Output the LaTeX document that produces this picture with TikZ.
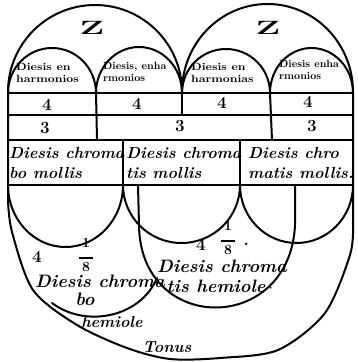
\documentclass[tikz,border=0pt]{standalone}
\begin{document}
\begin{tikzpicture}[x=1pt,y=-1pt,
  ln/.style={line width=2pt, line join=round, line cap=round},
  hand/.style={font=\fontsize{16}{18}\selectfont\bfseries\itshape, inner sep=0pt},
  bighand/.style={font=\fontsize{18}{20}\selectfont\bfseries\itshape, inner sep=0pt},
  tinytxt/.style={font=\fontsize{10.5}{11.5}\selectfont\bfseries, inner sep=0pt, align=left, anchor=west},
  num/.style={font=\fontsize{17}{17}\selectfont\bfseries, inner sep=0pt},
  fr/.style={font=\fontsize{14}{14}\selectfont\bfseries, inner sep=0pt, align=center},
  zed/.style={font=\fontsize{24}{24}\selectfont\bfseries, inner sep=0pt}
]
\useasboundingbox (0,0) rectangle (358,362);
% big arches
\draw[ln] (8,92) arc[start angle=180, end angle=360, x radius=87, y radius=87];
\draw[ln] (182,92) arc[start angle=180, end angle=360, x radius=85.5, y radius=88];
% small arches
\draw[ln] (8,93) arc[start angle=180, end angle=360, x radius=44, y radius=45];
\draw[ln] (96,93) arc[start angle=180, end angle=360, x radius=43, y radius=46];
\draw[ln] (182,93) arc[start angle=180, end angle=360, x radius=44, y radius=44];
\draw[ln] (270,93) arc[start angle=180, end angle=360, x radius=41.5, y radius=45];
% horizontal lines
\draw[ln] (8,93) -- (353,93);
\draw[ln] (8,115) -- (353,115);
\draw[ln] (8,140) -- (353,140);
\draw[ln] (8,185) -- (353,185);
% vertical dividers
\draw[ln] (96,93) -- (97,140);
\draw[ln] (182,93) -- (182,115);
\draw[ln] (270,93) -- (272,140);
\draw[ln] (123,140) -- (123,185);
\draw[ln] (240,140) -- (240,185);
% outer contour
\draw[ln] (8,92) -- plot[smooth] coordinates {(8,200) (12,232) (33,290) (77,325) (127,348) (170,359) (220,358) (278,350) (325,313) (350,255) (353,225)} -- (353,92);
% lower half circles
\draw[ln] (8,185) arc[start angle=180, end angle=0, x radius=57.5, y radius=62];
\draw[ln] (123,185) arc[start angle=180, end angle=0, x radius=58.5, y radius=58];
\draw[ln] (240,185) arc[start angle=180, end angle=0, x radius=56.5, y radius=58];
% tis hemiole U
\draw[ln] (138,185) -- (139,225) .. controls (140,335) and (290,335) .. (295,225) -- (295,185);
% bo arc
\draw[ln] (52,303) .. controls (85,328) and (140,318) .. (157,278);
% texts
\node[zed] (z1) at (92,28) {\scalebox{1.5}[0.8]{Z}};
\node[zed] (z2) at (268,28) {\scalebox{1.5}[0.8]{Z}};
\node[tinytxt] (a1) at (16,73) {\scalebox{1.15}[1]{Diesis en}\\\scalebox{1.15}[1]{harmonios}};
\node[tinytxt] (a2) at (103,72) {Diesis, enha\\rmonios};
\node[tinytxt] (a3) at (191,73) {\scalebox{1.15}[1]{Diesis en}\\\scalebox{1.15}[1]{harmonias}};
\node[tinytxt] (a4) at (279,70) {Diesis enha\\rmonios};
\node[num] (f1) at (47,105) {4};
\node[num] (f2) at (137,104) {4};
\node[num] (f3) at (222,103) {4};
\node[num] (f4) at (308,102) {4};
\node[num] (t1) at (45,128) {3};
\node[num] (t2) at (180,126) {3};
\node[num] (t3) at (312,126) {3};
\node[hand, anchor=west] (c1a) at (9,153) {Diesis chroma};
\node[hand, anchor=west] (c1b) at (9,173) {bo mollis};
\node[hand, anchor=west] (c2a) at (126,153) {Diesis chroma};
\node[hand, anchor=west] (c2b) at (126,173) {tis mollis};
\node[hand, anchor=west] (c3a) at (248,153) {Diesis chro};
\node[hand, anchor=west] (c3b) at (248,173) {matis mollis.};
\node[num] (l4) at (37,257) {4};
\node[fr] (l8) at (86,255) {1\\[-3pt]\rule{14pt}{1.6pt}\\[-1pt]8};
\node[bighand, anchor=west] (l1) at (35,281) {Diesis chroma};
\node[bighand] (l2) at (85,299) {bo};
\node[hand] (l3) at (112,322) {hemiole};
\node[hand] (ton) at (167,347) {Tonus};
\node[num] (m4) at (201,245) {4};
\node[fr] (m8) at (228,238) {1\\[-3pt]\rule{14pt}{1.6pt}\\[-1pt]8};
\node[hand] (md) at (246,244) {.};
\node[font=\fontsize{18}{20}\selectfont\bfseries\itshape, inner sep=0pt] (m1) at (222,266) {Diesis chroma};
\node[bighand] (m2) at (220,286) {tis hemiole\,$\cdot$};
\end{tikzpicture}
\end{document}
